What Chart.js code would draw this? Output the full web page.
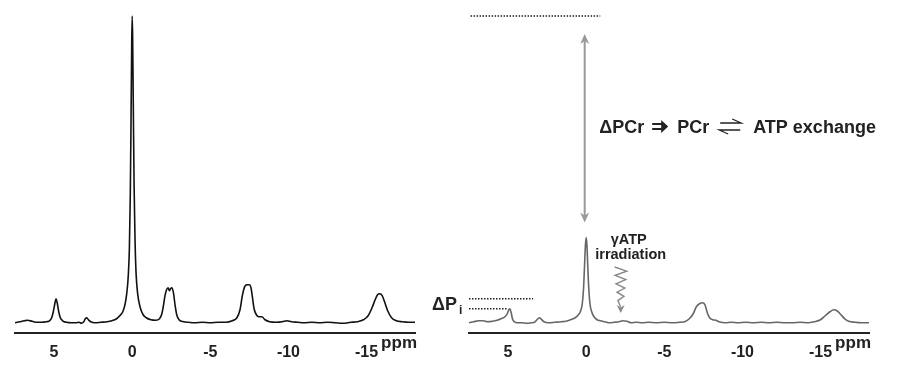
<!DOCTYPE html>
<html>
<head>
<meta charset="utf-8">
<script src="https://cdn.jsdelivr.net/npm/chart.js@4.4.1/dist/chart.umd.min.js"></script>
<style>
  html, body { margin: 0; padding: 0; background: #fff; }
  #wrap { position: relative; width: 897px; height: 366px; overflow: hidden; }
  canvas { position: absolute; top: 0; }
</style>
</head>
<body>
<div id="wrap">
  <canvas id="controlChart" width="430" height="374" style="left:0"></canvas>
  <canvas id="saturatedChart" width="467" height="374" style="left:430px"></canvas>
</div>
<script>
// chemical shift axis (ppm), drawn high -> low
const ppmMax = 7.5;
const ppmMin = -18.1;
const tickValues = [5, 0, -5, -10, -15];
const irradiationShift = -2.4;

const controlSpectrum = [
    [7.5, 1], [7.2, 2], [6.9, 3], [6.7, 3.5], [6.4, 2.5], [6.1, 1.5], [5.8, 1.5], [5.5, 2],
    [5.3, 3], [5.15, 6], [5.05, 12], [4.95, 20], [4.87, 25], [4.8, 21], [4.7, 12], [4.6, 6],
    [4.45, 3], [4.2, 1.5], [3.9, 1], [3.6, 1], [3.4, 1.5], [3.25, 0.5], [3.1, 2], [3.0, 5],
    [2.92, 6], [2.8, 4], [2.65, 2], [2.4, 1], [2.0, 1.5], [1.6, 2], [1.3, 3], [1.0, 5],
    [0.8, 8], [0.6, 12], [0.45, 20], [0.35, 30], [0.25, 48], [0.18, 75], [0.12, 130], [0.07, 210],
    [0.03, 280], [0.0, 307], [-0.03, 285], [-0.07, 220], [-0.12, 140], [-0.18, 85], [-0.25, 50], [-0.35, 30],
    [-0.5, 17], [-0.7, 9], [-0.9, 6], [-1.2, 4], [-1.5, 3.5], [-1.75, 5], [-1.9, 10], [-2.0, 18],
    [-2.1, 28], [-2.2, 34], [-2.3, 36], [-2.38, 33], [-2.45, 35], [-2.55, 36], [-2.65, 30], [-2.75, 18],
    [-2.85, 9], [-3.0, 4], [-3.3, 2], [-3.6, 1.5], [-4.0, 1], [-4.5, 1.5], [-5.0, 1], [-5.5, 1.5],
    [-6.0, 1.5], [-6.4, 3], [-6.7, 6], [-6.9, 14], [-7.05, 28], [-7.2, 37], [-7.35, 39], [-7.5, 39],
    [-7.6, 36], [-7.7, 26], [-7.8, 15], [-7.95, 9], [-8.1, 7], [-8.3, 7], [-8.5, 4], [-8.8, 2],
    [-9.2, 1.5], [-9.6, 2], [-9.9, 3], [-10.2, 2], [-10.6, 1.5], [-11.0, 1], [-11.5, 1.5], [-12.0, 1],
    [-12.5, 1.5], [-13.0, 1], [-13.5, 0.5], [-14.0, 1.5], [-14.4, 2], [-14.8, 4], [-15.1, 8], [-15.35, 16],
    [-15.55, 24], [-15.7, 29], [-15.85, 30], [-16.0, 28], [-16.15, 22], [-16.35, 13], [-16.6, 6], [-16.9, 3],
    [-17.3, 2], [-17.7, 1.5], [-18.1, 1.5]
];

// [ppm, signal] (gamma-ATP saturated)
const saturatedSpectrum = [
    [7.5, 1], [7.2, 2], [6.9, 3], [6.6, 3], [6.3, 2], [6.0, 2.5], [5.7, 3.5], [5.45, 5],
    [5.2, 7], [5.05, 10], [4.95, 14], [4.88, 15], [4.8, 11], [4.72, 5], [4.6, 2], [4.4, 1],
    [4.1, 1], [3.8, 0.5], [3.5, 1], [3.3, 1.5], [3.15, 4], [3.0, 6], [2.9, 5], [2.7, 2],
    [2.4, 1], [2.0, 1.5], [1.6, 2], [1.3, 2.5], [1.0, 4], [0.7, 6], [0.5, 9], [0.35, 13],
    [0.25, 20], [0.17, 35], [0.1, 60], [0.05, 78], [0.0, 86], [-0.05, 78], [-0.1, 58], [-0.17, 34],
    [-0.25, 19], [-0.35, 12], [-0.5, 7], [-0.7, 4], [-0.9, 3], [-1.2, 2], [-1.5, 1], [-1.8, 1.5],
    [-2.1, 2], [-2.35, 3], [-2.6, 2.5], [-2.9, 1], [-3.2, 1.5], [-3.6, 1], [-4.0, 1.5], [-4.5, 1],
    [-5.0, 1.5], [-5.5, 1], [-6.0, 1.5], [-6.3, 2], [-6.6, 5], [-6.85, 10], [-7.05, 17], [-7.25, 20],
    [-7.45, 21], [-7.6, 19], [-7.75, 11], [-7.9, 6], [-8.1, 4], [-8.3, 3.5], [-8.5, 2], [-8.9, 1],
    [-9.3, 1.5], [-9.7, 1], [-10.2, 1.5], [-10.7, 1], [-11.2, 1.5], [-11.7, 1], [-12.2, 1.5], [-12.7, 1],
    [-13.2, 1], [-13.7, 1.5], [-14.2, 1], [-14.6, 2], [-15.0, 4], [-15.3, 8], [-15.6, 12], [-15.85, 14],
    [-16.05, 13], [-16.3, 9], [-16.55, 5], [-16.8, 2.5], [-17.2, 1.5], [-17.6, 1], [-18.1, 1]
];

const FONT = '"Liberation Sans", Arial, sans-serif';

// highest signal inside a ppm window
const peakIn = (spectrum, hi, lo) =>
    Math.max(...spectrum.filter(p => p[0] <= hi && p[0] >= lo).map(p => p[1]));

const ppmLabel = {
    id: 'ppmLabel',
    afterDraw(chart) {
        const { ctx, chartArea } = chart;
        ctx.save();
        ctx.fillStyle = '#222';
        ctx.font = 'bold 17px ' + FONT;
        ctx.textAlign = 'right';
        ctx.textBaseline = 'alphabetic';
        ctx.fillText('ppm', chartArea.right + 2, chartArea.bottom + 15);
        ctx.restore();
    }
};

const arrowHead = (ctx, x, y, dir, w, len) => {
    ctx.beginPath();
    ctx.moveTo(x, y);
    ctx.lineTo(x - w / 2, y - dir * len);
    ctx.lineTo(x, y - dir * len * 0.7);
    ctx.lineTo(x + w / 2, y - dir * len);
    ctx.closePath();
    ctx.fill();
};

const dotted = (ctx, x1, x2, y) => {
    ctx.save();
    ctx.strokeStyle = '#222';
    ctx.lineWidth = 1.5;
    ctx.setLineDash([1.5, 1.5]);
    ctx.beginPath();
    ctx.moveTo(x1, y);
    ctx.lineTo(x2, y);
    ctx.stroke();
    ctx.restore();
};

const exchangeNotes = {
    id: 'exchangeNotes',
    afterDraw(chart) {
        const { ctx } = chart;
        const xs = chart.scales.x, ys = chart.scales.y;
        const pcrX = xs.getPixelForValue(0);
        const yBefore = ys.getPixelForValue(peakIn(controlSpectrum, 1, -1));
        const yAfter = ys.getPixelForValue(peakIn(saturatedSpectrum, 1, -1));
        const piBefore = ys.getPixelForValue(peakIn(controlSpectrum, 5.5, 4.3));
        const piAfter = ys.getPixelForValue(peakIn(saturatedSpectrum, 5.5, 4.3));

        // reference levels
        dotted(ctx, xs.getPixelForValue(7.4), xs.getPixelForValue(-0.9), yBefore);
        dotted(ctx, xs.getPixelForValue(7.5), xs.getPixelForValue(3.4), piBefore);
        dotted(ctx, xs.getPixelForValue(7.5), xs.getPixelForValue(5.1), piAfter);

        // double arrow between the two PCr heights
        ctx.save();
        ctx.strokeStyle = '#999';
        ctx.fillStyle = '#999';
        ctx.lineWidth = 2;
        const ax = pcrX - 1.5;
        const top = yBefore + 18, bot = yAfter - 15;
        ctx.beginPath();
        ctx.moveTo(ax, top + 6);
        ctx.lineTo(ax, bot - 6);
        ctx.stroke();
        arrowHead(ctx, ax, top, -1, 9, 10);
        arrowHead(ctx, ax, bot, 1, 9, 10);
        ctx.restore();

        // ΔPCr => PCr <=> ATP exchange
        ctx.save();
        ctx.fillStyle = '#222';
        ctx.strokeStyle = '#222';
        ctx.font = 'bold 18px ' + FONT;
        ctx.textBaseline = 'alphabetic';
        const ty = 133;
        ctx.fillText('\u0394PCr', pcrX + 13, ty);
        // implies arrow
        const dx = pcrX + 66;
        ctx.lineWidth = 2;
        ctx.beginPath();
        ctx.moveTo(dx, ty - 9); ctx.lineTo(dx + 10, ty - 9);
        ctx.moveTo(dx, ty - 4); ctx.lineTo(dx + 10, ty - 4);
        ctx.stroke();
        ctx.beginPath();
        ctx.moveTo(dx + 16, ty - 6.5);
        ctx.lineTo(dx + 9, ty - 13);
        ctx.lineTo(dx + 9, ty);
        ctx.closePath();
        ctx.fill();
        ctx.fillText('PCr', pcrX + 91, ty);
        // harpoons
        const hx = pcrX + 133;
        ctx.lineWidth = 1.3;
        ctx.beginPath();
        ctx.moveTo(hx + 1, ty - 10); ctx.lineTo(hx + 22, ty - 10); ctx.lineTo(hx + 13, ty - 14);
        ctx.moveTo(hx + 21, ty - 3); ctx.lineTo(hx, ty - 3); ctx.lineTo(hx + 9, ty + 1);
        ctx.stroke();
        ctx.fillText('ATP exchange', pcrX + 167, ty);

        // ΔPi label
        ctx.fillText('\u0394P', xs.left - 37, 310);
        ctx.font = 'bold 12px ' + FONT;
        ctx.fillText('i', xs.left - 10, 314);

        // gamma-ATP irradiation
        const gx = xs.getPixelForValue(irradiationShift);
        ctx.font = 'bold 14.5px ' + FONT;
        ctx.textAlign = 'center';
        ctx.fillText('\u03b3ATP', gx + 5, 244);
        ctx.fillText('irradiation', gx + 7, 259);
        ctx.restore();

        // wavy arrow
        ctx.save();
        ctx.strokeStyle = '#888';
        ctx.fillStyle = '#888';
        ctx.lineWidth = 1.4;
        const wx = gx - 3;
        let yy = 267;
        ctx.beginPath();
        ctx.moveTo(wx - 6, yy);
        for (let i = 0; i < 8; i++) {
            const amp = 6 - i * 0.45;
            yy += 4.2;
            ctx.lineTo(wx + (i % 2 === 0 ? amp : -amp), yy);
        }
        ctx.lineTo(wx, 307);
        ctx.stroke();
        arrowHead(ctx, wx, 313, 1, 8, 8);
        ctx.restore();
    }
};

const spectrumOptions = (padLeft, padRight) => ({
    responsive: false,
    animation: false,
    layout: { padding: { left: padLeft, right: padRight, top: 10, bottom: 2 } },
    plugins: { legend: { display: false }, tooltip: { enabled: false } },
    scales: {
        x: {
            type: 'linear',
            reverse: true,
            min: ppmMin,
            max: ppmMax,
            afterBuildTicks: scale => { scale.ticks = tickValues.map(v => ({ value: v })); },
            grid: { display: false, drawTicks: false, tickLength: 0 },
            border: { display: true, color: '#222', width: 2 },
            ticks: {
                color: '#222',
                padding: 10,
                maxRotation: 0,
                autoSkip: false,
                font: { family: FONT, size: 16, weight: 'bold' },
                callback: v => String(v)
            }
        },
        y: { display: false, min: -9, max: 313 }
    }
});

const spectrumDataset = (spectrum, color) => ({
    data: spectrum.map(p => ({ x: p[0], y: p[1] })),
    borderColor: color,
    borderWidth: 1.6,
    pointRadius: 0,
    cubicInterpolationMode: 'monotone',
    fill: false
});

new Chart(document.getElementById('controlChart'), {
    type: 'line',
    data: { datasets: [spectrumDataset(controlSpectrum, '#111')] },
    options: spectrumOptions(15, 15),
    plugins: [ppmLabel]
});

new Chart(document.getElementById('saturatedChart'), {
    type: 'line',
    data: { datasets: [spectrumDataset(saturatedSpectrum, '#666')] },
    options: spectrumOptions(39, 28),
    plugins: [ppmLabel, exchangeNotes]
});
</script>
</body>
</html>
